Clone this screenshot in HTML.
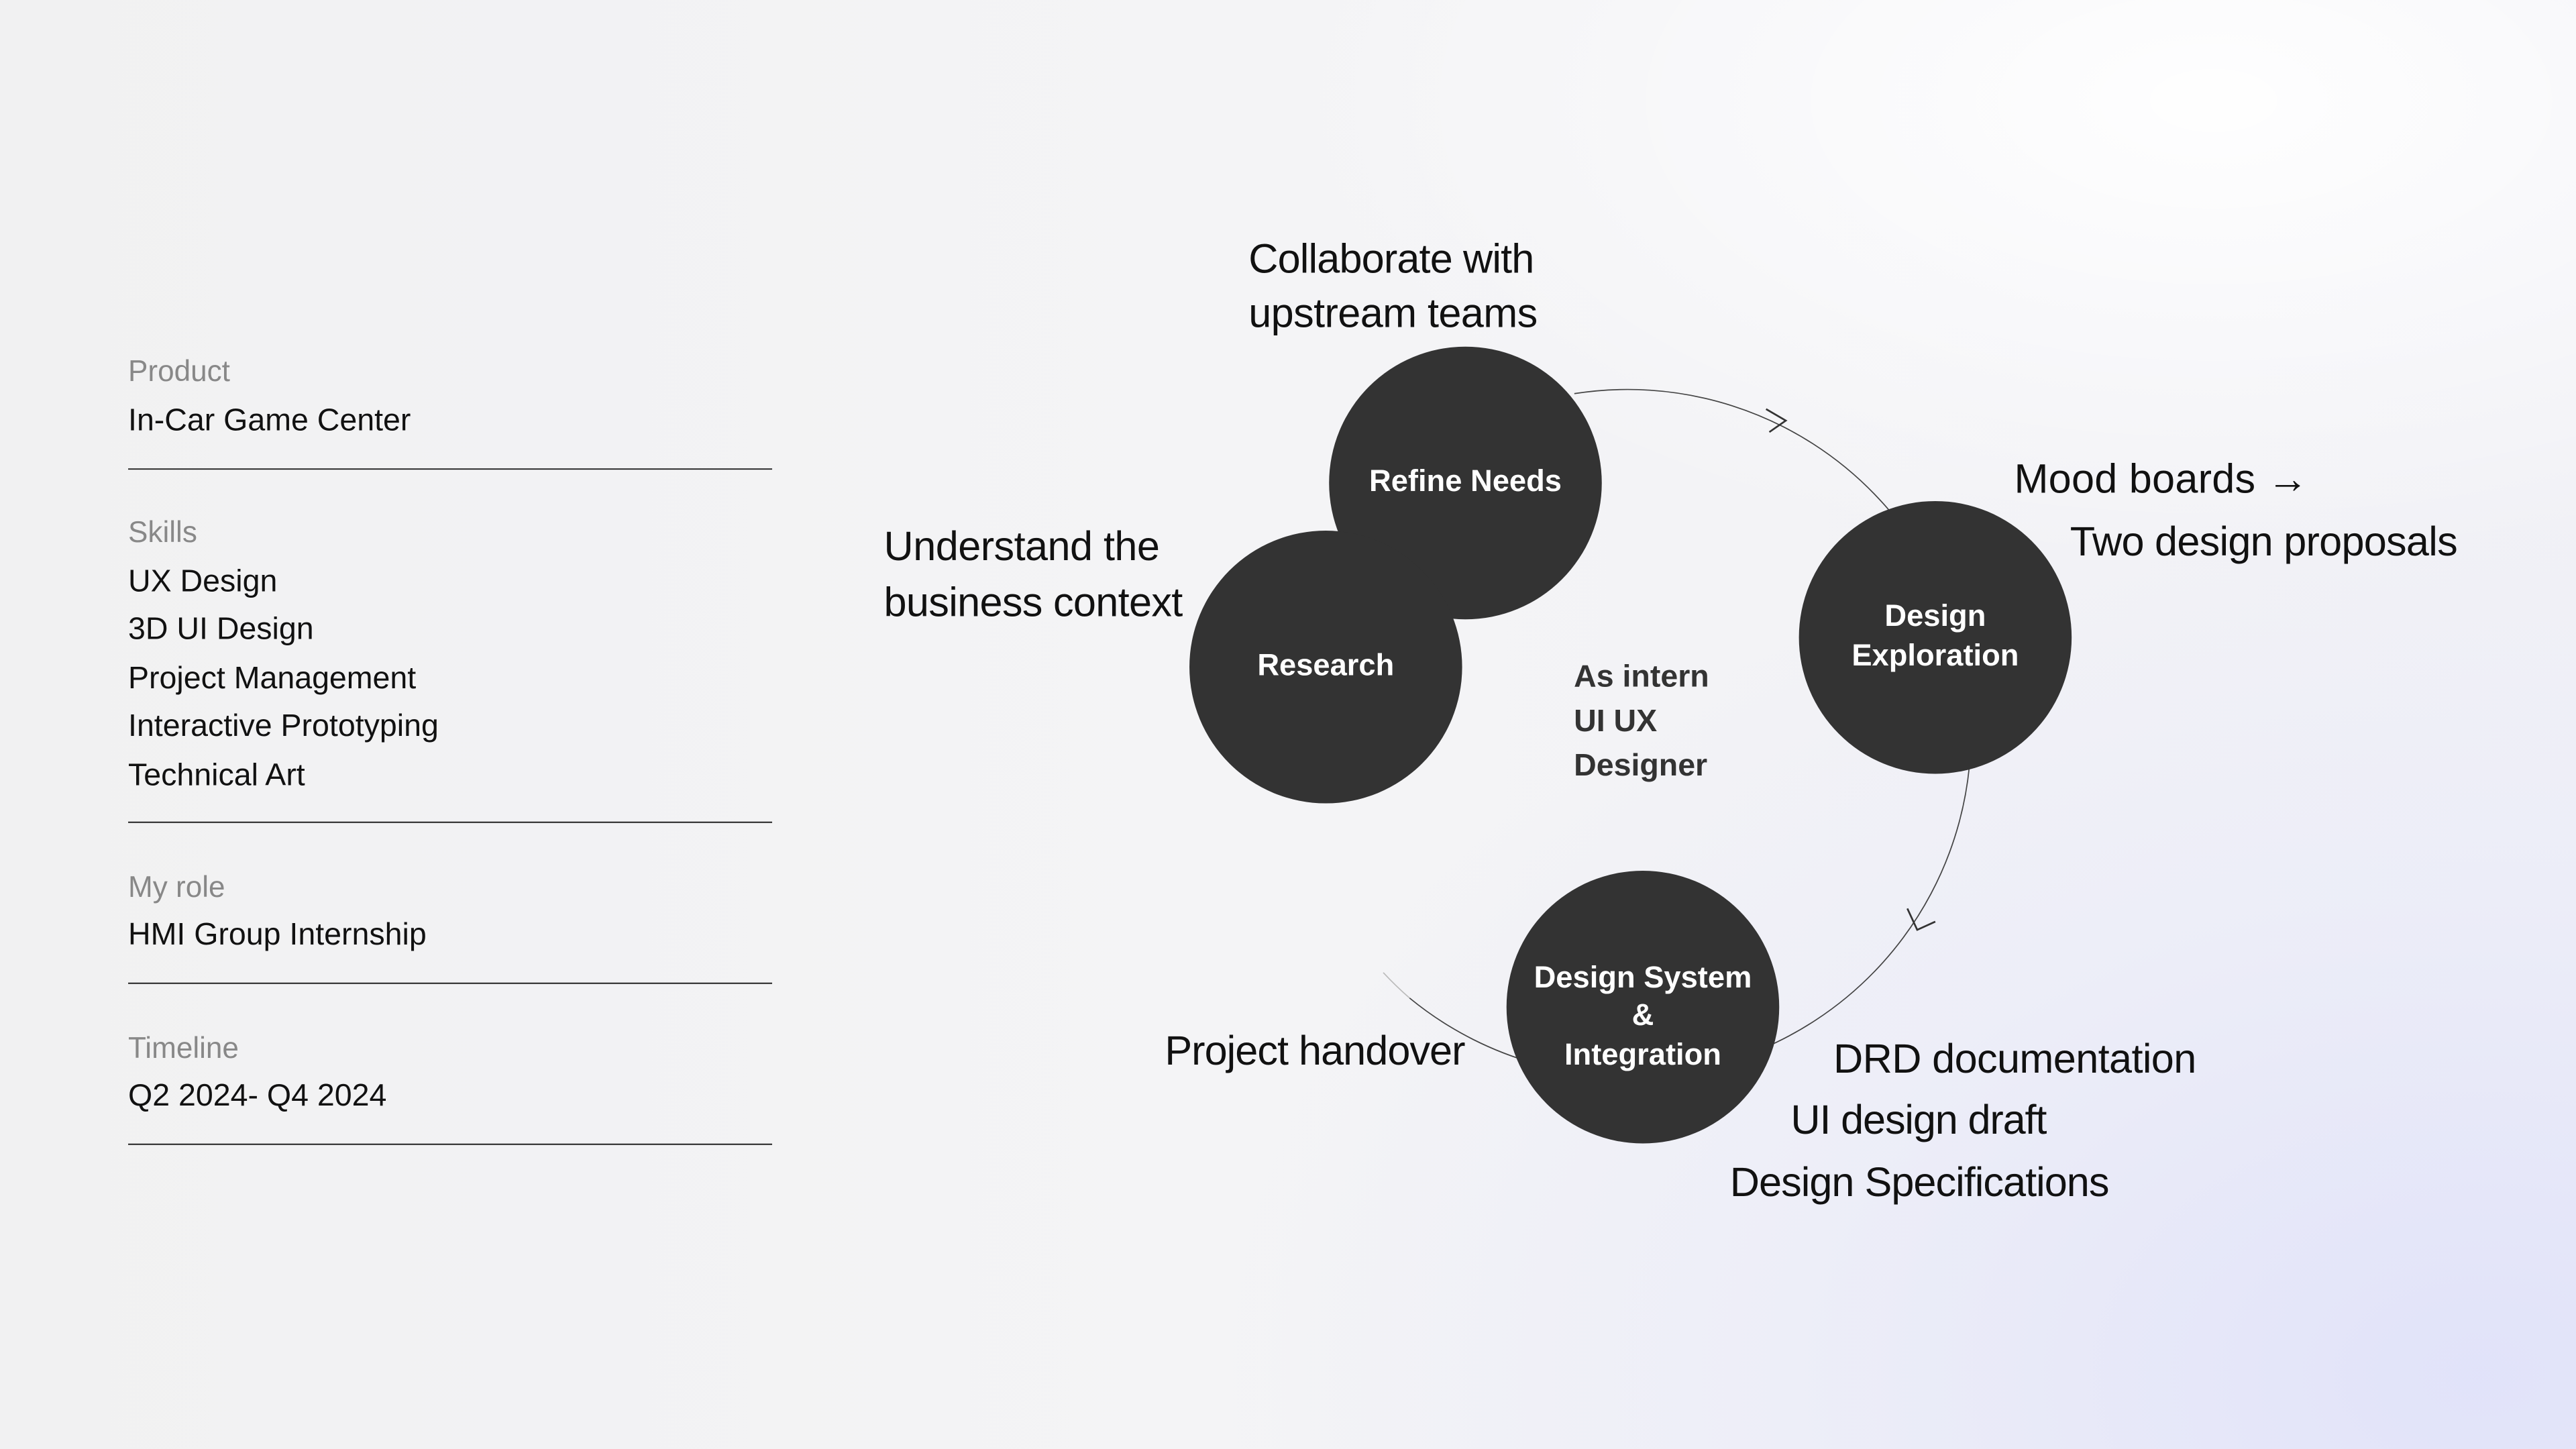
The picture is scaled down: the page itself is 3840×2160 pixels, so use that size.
<!DOCTYPE html>
<html><head><meta charset="utf-8"><style>
html,body{margin:0;padding:0}
body{width:3840px;height:2160px;overflow:hidden;background:#f2f2f4;position:relative}
.bg{position:absolute;inset:0;background:
radial-gradient(ellipse 1900px 1300px at 3700px 2050px, rgba(222,224,250,0.85), rgba(230,232,250,0.45) 55%, rgba(240,240,248,0) 100%),
radial-gradient(ellipse 1400px 700px at 3300px 150px, rgba(255,255,255,0.95), rgba(255,255,255,0) 100%),
linear-gradient(90deg,#f1f1f2 0%,#f4f4f6 50%,#f1f1f6 100%);}
svg{position:absolute;left:0;top:0}
text{font-family:"Liberation Sans",sans-serif}
</style></head><body><div class="bg"></div>
<svg width="3840" height="2160" viewBox="0 0 1568 882">
<g fill="#888" font-size="18">
<text x="78" y="232">Product</text>
<text x="78" y="330">Skills</text>
<text x="78" y="546">My role</text>
<text x="78" y="644">Timeline</text>
</g>
<g fill="#111" font-size="19">
<text x="78" y="262">In-Car Game Center</text>
<text x="78" y="360">UX Design</text>
<text x="78" y="389">3D UI Design</text>
<text x="78" y="419">Project Management</text>
<text x="78" y="448">Interactive Prototyping</text>
<text x="78" y="478">Technical Art</text>
<text x="78" y="575">HMI Group Internship</text>
<text x="78" y="673">Q2 2024- Q4 2024</text>
</g>
<g stroke="#222" stroke-width="0.8">
<line x1="78" y1="285.5" x2="470" y2="285.5"/>
<line x1="78" y1="500.5" x2="470" y2="500.5"/>
<line x1="78" y1="598.5" x2="470" y2="598.5"/>
<line x1="78" y1="696.5" x2="470" y2="696.5"/>
</g>
<path d="M858 607.5 A209 209 0 1 0 958.3 239.6" fill="none" stroke="#444" stroke-width="0.7"/>
<path d="M842 592 A209 209 0 0 0 858 607.5" fill="none" stroke="#bbb" stroke-width="0.7"/>
<g fill="none" stroke="#333" stroke-width="1.1" stroke-linejoin="miter">
<polyline points="1075,249 1087,256 1077,263"/>
<polyline points="1161,553 1167,566 1178,561"/>
</g>
<g fill="#333">
<circle cx="892" cy="294" r="83"/>
<circle cx="807" cy="406" r="83"/>
<circle cx="1178" cy="388" r="83"/>
<circle cx="1000" cy="613" r="83"/>
</g>
<g fill="#fff" font-size="18.5" font-weight="bold" text-anchor="middle">
<text x="892" y="299">Refine Needs</text>
<text x="807" y="411">Research</text>
<text x="1178" y="381">Design</text>
<text x="1178" y="405">Exploration</text>
<text x="1000" y="601">Design System</text>
<text x="1000" y="624">&amp;</text>
<text x="1000" y="648">Integration</text>
</g>
<g fill="#333" font-size="19" font-weight="bold">
<text x="958" y="418">As intern</text>
<text x="958" y="445">UI UX</text>
<text x="958" y="472">Designer</text>
</g>
<g fill="#111" font-size="25">
<text x="760" y="166" textLength="174">Collaborate with</text>
<text x="760" y="199" textLength="176">upstream teams</text>
<text x="538" y="341" textLength="168">Understand the</text>
<text x="538" y="375" textLength="182">business context</text>
<text x="1226" y="300" textLength="179">Mood boards →</text>
<text x="1260" y="338" textLength="236">Two design proposals</text>
<text x="709" y="648" textLength="183">Project handover</text>
<text x="1116" y="653" textLength="221">DRD documentation</text>
<text x="1090" y="690" textLength="156">UI design draft</text>
<text x="1053" y="728" textLength="231">Design Specifications</text>
</g>
</svg>
</body></html>
